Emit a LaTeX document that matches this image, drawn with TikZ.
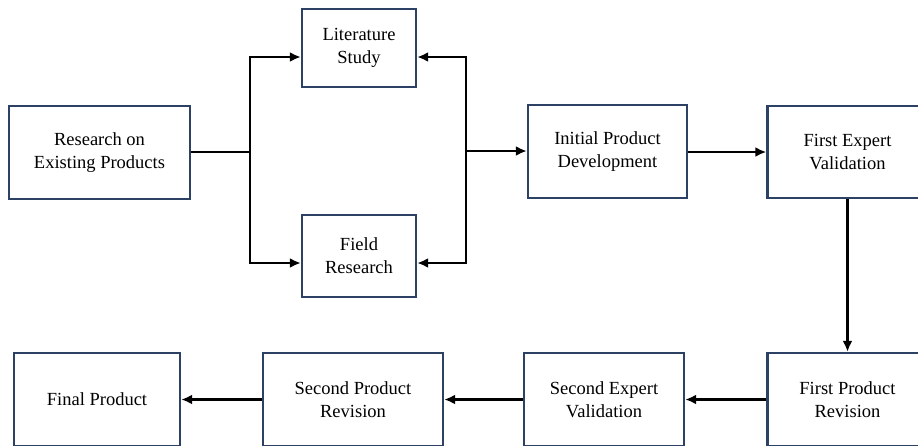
\documentclass[tikz,border=0pt]{standalone}
\usepackage{fontspec}
\setmainfont{Liberation Serif}
\usetikzlibrary{arrows.meta}
\definecolor{boxblue}{RGB}{45,65,100}
\begin{document}
\begin{tikzpicture}[x=1pt,y=-1pt,
  stagebox/.style={draw=boxblue,line width=2.4pt,fill=white,align=center,
    font=\fontsize{18.5}{23}\selectfont,inner sep=0pt},
  conn/.style={draw=black,line width=2.2pt},
  arr/.style={conn,-{Latex[length=11pt,width=10pt]}}]
\useasboundingbox (0,0) rectangle (918,445);
\clip (0,0) rectangle (918,445);
% top row
\node[stagebox,minimum width=181pt,minimum height=93pt] (R) at (99.5,152.5) {Research on\\Existing Products};
\node[stagebox,minimum width=114pt,minimum height=78pt] (L) at (359,48) {Literature\\Study};
\node[stagebox,minimum width=114pt,minimum height=82pt] (F) at (359,256) {Field\\Research};
\node[stagebox,minimum width=159pt,minimum height=93pt] (I) at (607.5,151.5) {Initial Product\\Development};
\node[stagebox,minimum width=160pt,minimum height=92pt] (V1) at (847.5,152) {First Expert\\Validation};
% bottom row
\node[stagebox,minimum width=160pt,minimum height=93pt] (P1) at (847.5,399.5) {First Product\\Revision};
\node[stagebox,minimum width=160pt,minimum height=93pt] (V2) at (604,399.5) {Second Expert\\Validation};
\node[stagebox,minimum width=180pt,minimum height=93pt] (P2) at (353,399.5) {Second Product\\Revision};
\node[stagebox,minimum width=166pt,minimum height=93pt] (FP) at (97,399.5) {Final Product};
% junctions
\coordinate (jl) at (250,152);
\coordinate (jr) at (466,151);
\draw[conn] (R.east |- jl) -- (jl);
\draw[arr] (jl) |- (L.west |- 0,57);
\draw[arr] (jl) |- (F.west |- 0,263);
\draw[arr] (jr) |- (L.east |- 0,57);
\draw[arr] (jr) |- (F.east |- 0,263);
\draw[arr] (jr) -- (I.west |- jr);
\draw[arr] (I.east |- 0,152) -- (V1.west |- 0,152);
\draw[arr] (V1.south) -- (P1.north);
\draw[arr] (P1.west) -- (V2.east);
\draw[arr] (V2.west) -- (P2.east);
\draw[arr] (P2.west) -- (FP.east);
\end{tikzpicture}
\end{document}
